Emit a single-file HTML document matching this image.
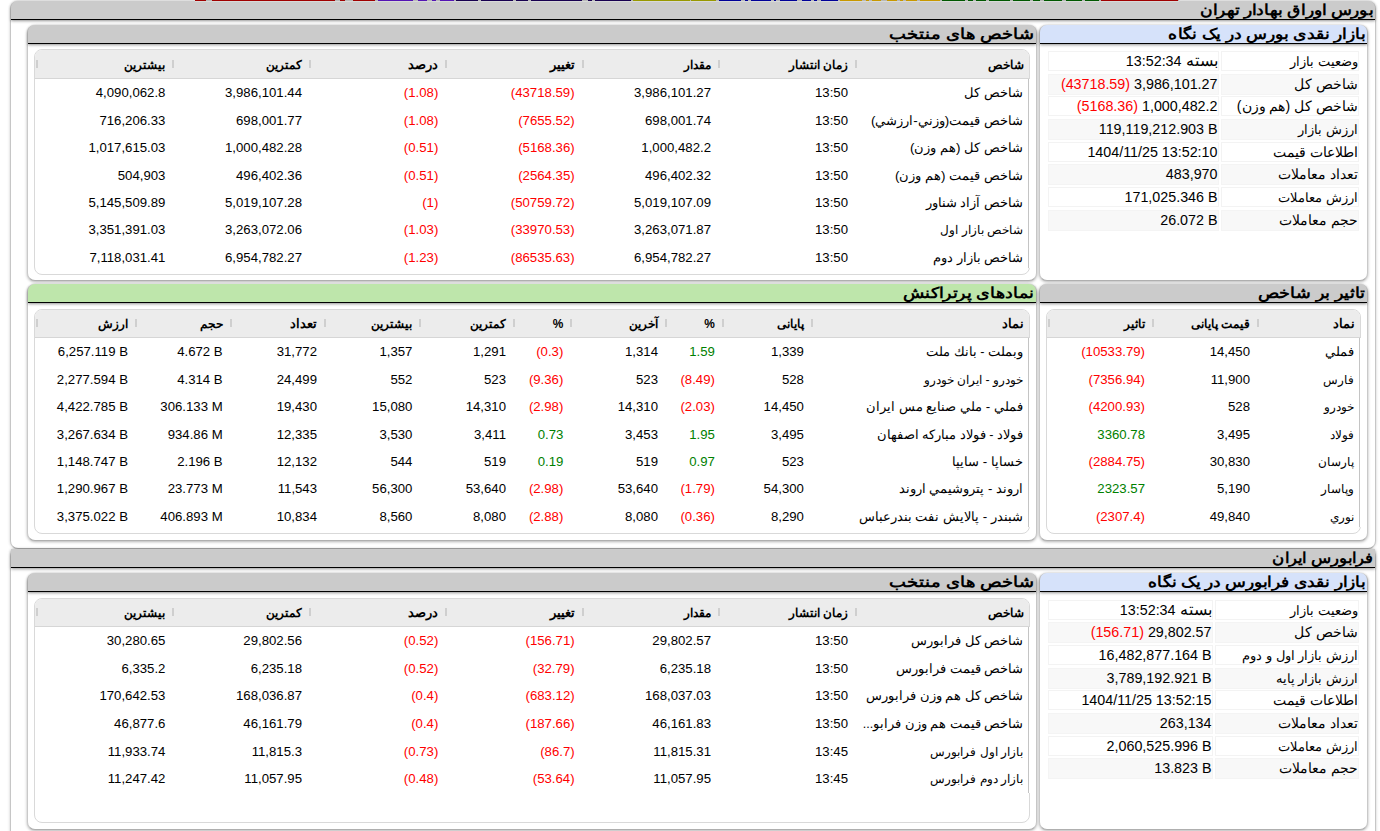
<!DOCTYPE html>
<html lang="fa" dir="rtl">
<head>
<meta charset="utf-8">
<title>TSETMC</title>
<style>
html,body{margin:0;padding:0}
body{width:1380px;height:831px;overflow:hidden;background:#fff;position:relative;direction:rtl;color:#000;font-family:"Liberation Sans",sans-serif;font-size:13px}
.strip{position:absolute;top:0;left:195px;width:984px;height:1px;direction:ltr;background:#b8b8b8;border-bottom:1px solid #d8dad8;z-index:5}
.strip i{position:absolute;top:0;height:1px;display:block}
.outer{position:absolute;left:10px;width:1366px;box-sizing:border-box;border:1px solid #c6c6c6;border-top:0;border-bottom-color:#afafaf;border-radius:8px;background:#fff;box-shadow:0 0 3px rgba(0,0,0,.22)}
.outer>h1{margin:0;height:18px;background:#cbcbcb;border-bottom:1px solid #000;border-radius:7px 7px 0 0;box-shadow:0 1px 3px rgba(0,0,0,.42);font-size:14.6px;font-weight:bold;line-height:18px;padding:0 2px 0 0;text-align:right;white-space:nowrap;overflow:visible}
.outer.sq>h1{border-radius:0}
h1>span,h2>span{display:inline-block;transform-origin:100% 50%}
.box{position:absolute;box-sizing:border-box;border:1px solid #c9c9c9;border-top:0;border-bottom-color:#afafaf;border-radius:8px;background:#fff;box-shadow:0 1px 3px rgba(0,0,0,.3)}
.box>h2{margin:0;height:18px;background:#cbcbcb;border-bottom:1px solid #000;border-radius:7px 7px 0 0;box-shadow:0 1px 3px rgba(0,0,0,.42);font-size:14.6px;font-weight:bold;line-height:18px;padding:0 2px 0 0;text-align:right;white-space:nowrap}
.box.blue>h2{background:#d6e2fa}
.box.w>h2{padding-right:2px}
.box.green>h2{background:#bee6ab}
.grid{position:absolute;box-sizing:border-box;border:1px solid #d9d9d9;border-radius:8px;background:#fff;overflow:hidden}
.grid table{border-collapse:separate;border-spacing:0;table-layout:fixed;width:100%}
.grid th{height:29px;padding:0 8px 0 0;background:#ececec;border-bottom:1px solid #d6d6d6;font-weight:bold;font-size:12.4px;text-align:right;position:relative;white-space:nowrap;box-sizing:border-box}
.grid th:after{content:"";position:absolute;left:-1px;top:10px;width:2px;height:8px;background:#cfcfcf;z-index:2}
.grid th:first-child{padding-right:5px}
.grid th:last-child:after{display:none}
.grid.h28 th{height:28px}
.grid.h28 th:after{top:9px}
.grid td{padding:0 8px 0 0;text-align:right;white-space:nowrap;box-sizing:border-box;font-size:13.2px;overflow:hidden}
.grid td.a{font-size:12.9px;padding-right:6px}
.vl{position:absolute;width:1px;background:#c4c4c4;border-right:1px solid #fff}
.n{direction:ltr;unicode-bidi:isolate;display:inline-block}
.r{color:#f00}
.g{color:#008000}
.kv{position:absolute;box-sizing:border-box;border:1px solid #f3f3f3;background:#fff;height:20.4px;line-height:19px;white-space:nowrap;text-align:right;padding:0 0.5px 0 0;font-size:14.3px}
.kv .ar{font-size:15.6px;line-height:0}
.kv.k{font-size:13.5px;padding-right:0}
.kv.alt{background:#f8f8f8;border-color:#f4f4f4}
</style>
</head>
<body>
<div class="strip"><i style="left:0px;width:11px;background:#a00000"></i><i style="left:17px;width:123px;background:#a00000"></i><i style="left:145px;width:5px;background:#a00000"></i><i style="left:158px;width:22px;background:#a00000"></i><i style="left:183px;width:35px;background:#5414b4"></i><i style="left:223px;width:9px;background:#5414b4"></i><i style="left:237px;width:4px;background:#5414b4"></i><i style="left:245px;width:14px;background:#5414b4"></i><i style="left:261px;width:22px;background:#180050"></i><i style="left:286px;width:32px;background:#180050"></i><i style="left:321px;width:12px;background:#180050"></i><i style="left:336px;width:51px;background:#180050"></i><i style="left:393px;width:4px;background:#180050"></i><i style="left:400px;width:36px;background:#180050"></i><i style="left:438px;width:57px;background:#989800"></i><i style="left:496px;width:25px;background:#989800"></i><i style="left:524px;width:22px;background:#000098"></i><i style="left:550px;width:3px;background:#000098"></i><i style="left:556px;width:20px;background:#000098"></i><i style="left:579px;width:2px;background:#000098"></i><i style="left:585px;width:17px;background:#000098"></i><i style="left:607px;width:9px;background:#000098"></i><i style="left:619px;width:3px;background:#000098"></i><i style="left:626px;width:17px;background:#000098"></i><i style="left:645px;width:22px;background:#c89800"></i><i style="left:671px;width:3px;background:#c89800"></i><i style="left:677px;width:9px;background:#c89800"></i><i style="left:692px;width:10px;background:#c89800"></i><i style="left:705px;width:3px;background:#c89800"></i><i style="left:711px;width:11px;background:#c89800"></i><i style="left:725px;width:20px;background:#c89800"></i><i style="left:747px;width:23px;background:#005800"></i><i style="left:773px;width:5px;background:#005800"></i><i style="left:781px;width:10px;background:#005800"></i><i style="left:794px;width:21px;background:#005800"></i><i style="left:818px;width:17px;background:#005800"></i><i style="left:838px;width:7px;background:#005800"></i><i style="left:849px;width:18px;background:#005800"></i><i style="left:871px;width:16px;background:#005800"></i><i style="left:890px;width:14px;background:#005800"></i><i style="left:906px;width:77px;background:#a00000"></i></div>
<div class="outer" style="top:1px;height:548px"><h1><span style="transform:scaleX(1.144)">بورس اوراق بهادار تهران</span></h1></div>
<div class="outer sq" style="top:549px;height:300px"><h1><span style="transform:scaleX(1.105)">فرابورس ایران</span></h1></div>
<div class="box w" style="left:27px;top:25px;width:1010px;height:256px"><h2><span style="transform:scaleX(1.195)">شاخص های منتخب</span></h2></div>
<div class="box blue" style="left:1039px;top:25px;width:329px;height:256px"><h2><span style="transform:scaleX(1.143)">بازار نقدی بورس در یک نگاه</span></h2></div>
<div class="grid" style="left:34px;top:49px;width:996px;height:226px">
<table><colgroup>
<col style="width:173px">
<col style="width:137px">
<col style="width:136.4px">
<col style="width:136.3px">
<col style="width:136.3px">
<col style="width:136.6px">
<col style="width:136.4px">
<col>
</colgroup><thead><tr>
<th style="font-size:12.4px">شاخص</th>
<th style="font-size:12.4px">زمان انتشار</th>
<th style="font-size:12.4px">مقدار</th>
<th style="font-size:12.5px">تغییر</th>
<th style="font-size:12.5px">درصد</th>
<th style="font-size:12.4px">کمترین</th>
<th style="font-size:12.4px">بیشترین</th>
<th style="padding:0"></th>
</tr></thead><tbody>
<tr style="height:27.45px">
<td class="a" style="font-size:12.9px">شاخص کل</td>
<td><span class="n">13:50</span></td>
<td><span class="n">3,986,101.27</span></td>
<td><span class="n r">(43718.59)</span></td>
<td><span class="n r">(1.08)</span></td>
<td><span class="n">3,986,101.44</span></td>
<td><span class="n">4,090,062.8</span></td>
<td style="padding:0"></td></tr>
<tr style="height:27.45px">
<td class="a" style="font-size:13.4px">شاخص قیمت(وزني-ارزشي)</td>
<td><span class="n">13:50</span></td>
<td><span class="n">698,001.74</span></td>
<td><span class="n r">(7655.52)</span></td>
<td><span class="n r">(1.08)</span></td>
<td><span class="n">698,001.77</span></td>
<td><span class="n">716,206.33</span></td>
<td style="padding:0"></td></tr>
<tr style="height:27.45px">
<td class="a" style="font-size:13.4px">شاخص کل (هم وزن)</td>
<td><span class="n">13:50</span></td>
<td><span class="n">1,000,482.2</span></td>
<td><span class="n r">(5168.36)</span></td>
<td><span class="n r">(0.51)</span></td>
<td><span class="n">1,000,482.28</span></td>
<td><span class="n">1,017,615.03</span></td>
<td style="padding:0"></td></tr>
<tr style="height:27.45px">
<td class="a" style="font-size:13.4px">شاخص قیمت (هم وزن)</td>
<td><span class="n">13:50</span></td>
<td><span class="n">496,402.32</span></td>
<td><span class="n r">(2564.35)</span></td>
<td><span class="n r">(0.51)</span></td>
<td><span class="n">496,402.36</span></td>
<td><span class="n">504,903</span></td>
<td style="padding:0"></td></tr>
<tr style="height:27.45px">
<td class="a" style="font-size:12.8px">شاخص آزاد شناور</td>
<td><span class="n">13:50</span></td>
<td><span class="n">5,019,107.09</span></td>
<td><span class="n r">(50759.72)</span></td>
<td><span class="n r">(1)</span></td>
<td><span class="n">5,019,107.28</span></td>
<td><span class="n">5,145,509.89</span></td>
<td style="padding:0"></td></tr>
<tr style="height:27.45px">
<td class="a" style="font-size:12.4px">شاخص بازار اول</td>
<td><span class="n">13:50</span></td>
<td><span class="n">3,263,071.87</span></td>
<td><span class="n r">(33970.53)</span></td>
<td><span class="n r">(1.03)</span></td>
<td><span class="n">3,263,072.06</span></td>
<td><span class="n">3,351,391.03</span></td>
<td style="padding:0"></td></tr>
<tr style="height:27.45px">
<td class="a" style="font-size:12.5px">شاخص بازار دوم</td>
<td><span class="n">13:50</span></td>
<td><span class="n">6,954,782.27</span></td>
<td><span class="n r">(86535.63)</span></td>
<td><span class="n r">(1.23)</span></td>
<td><span class="n">6,954,782.27</span></td>
<td><span class="n">7,118,031.41</span></td>
<td style="padding:0"></td></tr>
</tbody></table></div>
<div class="vl" style="left:1028px;top:79px;height:189px"></div>
<div class="kv k" style="left:1221px;top:51px;width:138px;font-size:13.4px">وضعیت بازار</div>
<div class="kv" style="left:1048px;top:51px;width:171px"><span class="ar">بسته</span> <span class="n">13:52:34</span></div>
<div class="kv k alt" style="left:1221px;top:74px;width:138px;height:21px;font-size:13.5px">شاخص کل</div>
<div class="kv alt" style="left:1048px;top:74px;width:171px;height:21px"><span class="n">3,986,101.27</span> <span class="n r">(43718.59)</span></div>
<div class="kv k" style="left:1221px;top:96px;width:138px;font-size:14.1px">شاخص کل (هم وزن)</div>
<div class="kv" style="left:1048px;top:96px;width:171px"><span class="n">1,000,482.2</span> <span class="n r">(5168.36)</span></div>
<div class="kv k alt" style="left:1221px;top:119px;width:138px;height:21px;font-size:13.4px">ارزش بازار</div>
<div class="kv alt" style="left:1048px;top:119px;width:171px;height:21px"><span class="n">119,119,212.903 B</span></div>
<div class="kv k" style="left:1221px;top:142px;width:138px;font-size:13.5px">اطلاعات قیمت</div>
<div class="kv" style="left:1048px;top:142px;width:171px"><span class="n">1404/11/25 13:52:10</span></div>
<div class="kv k alt" style="left:1221px;top:164px;width:138px;height:21px;font-size:13.5px">تعداد معاملات</div>
<div class="kv alt" style="left:1048px;top:164px;width:171px;height:21px"><span class="n">483,970</span></div>
<div class="kv k" style="left:1221px;top:187px;width:138px;font-size:13.4px">ارزش معاملات</div>
<div class="kv" style="left:1048px;top:187px;width:171px"><span class="n">171,025.346 B</span></div>
<div class="kv k alt" style="left:1221px;top:210px;width:138px;height:21px;font-size:13.5px">حجم معاملات</div>
<div class="kv alt" style="left:1048px;top:210px;width:171px;height:21px"><span class="n">26.072 B</span></div>
<div class="box green w" style="left:27px;top:284px;width:1010px;height:257px"><h2><span style="transform:scaleX(1.162)">نمادهای پرتراکنش</span></h2></div>
<div class="box" style="left:1039px;top:284px;width:329px;height:257px"><h2><span style="transform:scaleX(1.174)">تاثیر بر شاخص</span></h2></div>
<div class="grid h28" style="left:34px;top:309px;width:996px;height:225px">
<table><colgroup>
<col style="width:217.1px">
<col style="width:89px">
<col style="width:56.9px">
<col style="width:94.7px">
<col style="width:57.3px">
<col style="width:93.6px">
<col style="width:95.4px">
<col style="width:94.4px">
<col style="width:94.7px">
<col style="width:98.9px">
<col>
</colgroup><thead><tr>
<th style="font-size:12.5px">نماد</th>
<th style="font-size:12.4px">پایانی</th>
<th style="font-size:11.9px">%</th>
<th style="font-size:12.4px">آخرین</th>
<th style="font-size:11.9px">%</th>
<th style="font-size:12.4px">کمترین</th>
<th style="font-size:12.4px">بیشترین</th>
<th style="font-size:12.5px">تعداد</th>
<th style="font-size:12.4px">حجم</th>
<th style="font-size:12.4px">ارزش</th>
<th style="padding:0"></th>
</tr></thead><tbody>
<tr style="height:27.45px">
<td class="a" style="font-size:12.6px">وبملت - بانك ملت</td>
<td><span class="n">1,339</span></td>
<td><span class="n g">1.59</span></td>
<td><span class="n">1,314</span></td>
<td><span class="n r">(0.3)</span></td>
<td><span class="n">1,291</span></td>
<td><span class="n">1,357</span></td>
<td><span class="n">31,772</span></td>
<td><span class="n">4.672 B</span></td>
<td><span class="n">6,257.119 B</span></td>
<td style="padding:0"></td></tr>
<tr style="height:27.45px">
<td class="a" style="font-size:12.4px">خودرو - ایران خودرو</td>
<td><span class="n">528</span></td>
<td><span class="n r">(8.49)</span></td>
<td><span class="n">523</span></td>
<td><span class="n r">(9.36)</span></td>
<td><span class="n">523</span></td>
<td><span class="n">552</span></td>
<td><span class="n">24,499</span></td>
<td><span class="n">4.314 B</span></td>
<td><span class="n">2,277.594 B</span></td>
<td style="padding:0"></td></tr>
<tr style="height:27.45px">
<td class="a" style="font-size:13.4px">فملي - ملي صنایع مس ایران</td>
<td><span class="n">14,450</span></td>
<td><span class="n r">(2.03)</span></td>
<td><span class="n">14,310</span></td>
<td><span class="n r">(2.98)</span></td>
<td><span class="n">14,310</span></td>
<td><span class="n">15,080</span></td>
<td><span class="n">19,430</span></td>
<td><span class="n">306.133 M</span></td>
<td><span class="n">4,422.785 B</span></td>
<td style="padding:0"></td></tr>
<tr style="height:27.45px">
<td class="a" style="font-size:12.7px">فولاد - فولاد مبارکه اصفهان</td>
<td><span class="n">3,495</span></td>
<td><span class="n g">1.95</span></td>
<td><span class="n">3,453</span></td>
<td><span class="n g">0.73</span></td>
<td><span class="n">3,411</span></td>
<td><span class="n">3,530</span></td>
<td><span class="n">12,335</span></td>
<td><span class="n">934.86 M</span></td>
<td><span class="n">3,267.634 B</span></td>
<td style="padding:0"></td></tr>
<tr style="height:27.45px">
<td class="a" style="font-size:13.4px">خساپا - سایپا</td>
<td><span class="n">523</span></td>
<td><span class="n g">0.97</span></td>
<td><span class="n">519</span></td>
<td><span class="n g">0.19</span></td>
<td><span class="n">519</span></td>
<td><span class="n">544</span></td>
<td><span class="n">12,132</span></td>
<td><span class="n">2.196 B</span></td>
<td><span class="n">1,148.747 B</span></td>
<td style="padding:0"></td></tr>
<tr style="height:27.45px">
<td class="a" style="font-size:13.1px">اروند - پتروشیمي اروند</td>
<td><span class="n">54,300</span></td>
<td><span class="n r">(1.79)</span></td>
<td><span class="n">53,640</span></td>
<td><span class="n r">(2.98)</span></td>
<td><span class="n">53,640</span></td>
<td><span class="n">56,300</span></td>
<td><span class="n">11,543</span></td>
<td><span class="n">23.773 M</span></td>
<td><span class="n">1,290.967 B</span></td>
<td style="padding:0"></td></tr>
<tr style="height:27.45px">
<td class="a" style="font-size:13.4px">شبندر - پالایش نفت بندرعباس</td>
<td><span class="n">8,290</span></td>
<td><span class="n r">(0.36)</span></td>
<td><span class="n">8,080</span></td>
<td><span class="n r">(2.88)</span></td>
<td><span class="n">8,080</span></td>
<td><span class="n">8,560</span></td>
<td><span class="n">10,834</span></td>
<td><span class="n">406.893 M</span></td>
<td><span class="n">3,375.022 B</span></td>
<td style="padding:0"></td></tr>
</tbody></table></div>
<div class="vl" style="left:1028px;top:338px;height:189px"></div>
<div class="grid h28" style="left:1046px;top:309px;width:315px;height:225px">
<table><colgroup>
<col style="width:102px">
<col style="width:105px">
<col style="width:104px">
<col>
</colgroup><thead><tr>
<th style="font-size:12.5px">نماد</th>
<th style="font-size:12.4px">قیمت پایانی</th>
<th style="font-size:12.4px">تاثیر</th>
<th style="padding:0"></th>
</tr></thead><tbody>
<tr style="height:27.45px">
<td class="a" style="font-size:12.9px">فملي</td>
<td><span class="n">14,450</span></td>
<td><span class="n r">(10533.79)</span></td>
<td style="padding:0"></td></tr>
<tr style="height:27.45px">
<td class="a" style="font-size:12.4px">فارس</td>
<td><span class="n">11,900</span></td>
<td><span class="n r">(7356.94)</span></td>
<td style="padding:0"></td></tr>
<tr style="height:27.45px">
<td class="a" style="font-size:12.4px">خودرو</td>
<td><span class="n">528</span></td>
<td><span class="n r">(4200.93)</span></td>
<td style="padding:0"></td></tr>
<tr style="height:27.45px">
<td class="a" style="font-size:12.4px">فولاد</td>
<td><span class="n">3,495</span></td>
<td><span class="n g">3360.78</span></td>
<td style="padding:0"></td></tr>
<tr style="height:27.45px">
<td class="a" style="font-size:12.4px">پارسان</td>
<td><span class="n">30,830</span></td>
<td><span class="n r">(2884.75)</span></td>
<td style="padding:0"></td></tr>
<tr style="height:27.45px">
<td class="a" style="font-size:12.4px">وپاسار</td>
<td><span class="n">5,190</span></td>
<td><span class="n g">2323.57</span></td>
<td style="padding:0"></td></tr>
<tr style="height:27.45px">
<td class="a" style="font-size:12.4px">نوري</td>
<td><span class="n">49,840</span></td>
<td><span class="n r">(2307.4)</span></td>
<td style="padding:0"></td></tr>
</tbody></table></div>
<div class="vl" style="left:1359px;top:338px;height:189px"></div>
<div class="box w" style="left:27px;top:573px;width:1010px;height:257px"><h2><span style="transform:scaleX(1.195)">شاخص های منتخب</span></h2></div>
<div class="box blue" style="left:1039px;top:573px;width:329px;height:257px"><h2><span style="transform:scaleX(1.137)">بازار نقدی فرابورس در یک نگاه</span></h2></div>
<div class="grid h28" style="left:34px;top:598px;width:996px;height:225px">
<table><colgroup>
<col style="width:173px">
<col style="width:137px">
<col style="width:136.4px">
<col style="width:136.3px">
<col style="width:136.3px">
<col style="width:136.6px">
<col style="width:136.4px">
<col>
</colgroup><thead><tr>
<th style="font-size:12.4px">شاخص</th>
<th style="font-size:12.4px">زمان انتشار</th>
<th style="font-size:12.4px">مقدار</th>
<th style="font-size:12.5px">تغییر</th>
<th style="font-size:12.5px">درصد</th>
<th style="font-size:12.4px">کمترین</th>
<th style="font-size:12.4px">بیشترین</th>
<th style="padding:0"></th>
</tr></thead><tbody>
<tr style="height:27.6px">
<td class="a" style="font-size:12.5px">شاخص کل فرابورس</td>
<td><span class="n">13:50</span></td>
<td><span class="n">29,802.57</span></td>
<td><span class="n r">(156.71)</span></td>
<td><span class="n r">(0.52)</span></td>
<td><span class="n">29,802.56</span></td>
<td><span class="n">30,280.65</span></td>
<td style="padding:0"></td></tr>
<tr style="height:27.6px">
<td class="a" style="font-size:12.5px">شاخص قیمت فرابورس</td>
<td><span class="n">13:50</span></td>
<td><span class="n">6,235.18</span></td>
<td><span class="n r">(32.79)</span></td>
<td><span class="n r">(0.52)</span></td>
<td><span class="n">6,235.18</span></td>
<td><span class="n">6,335.2</span></td>
<td style="padding:0"></td></tr>
<tr style="height:27.6px">
<td class="a" style="font-size:12.5px">شاخص کل هم وزن فرابورس</td>
<td><span class="n">13:50</span></td>
<td><span class="n">168,037.03</span></td>
<td><span class="n r">(683.12)</span></td>
<td><span class="n r">(0.4)</span></td>
<td><span class="n">168,036.87</span></td>
<td><span class="n">170,642.53</span></td>
<td style="padding:0"></td></tr>
<tr style="height:27.6px">
<td class="a" style="font-size:12.5px">شاخص قیمت هم وزن فرابو...</td>
<td><span class="n">13:50</span></td>
<td><span class="n">46,161.83</span></td>
<td><span class="n r">(187.66)</span></td>
<td><span class="n r">(0.4)</span></td>
<td><span class="n">46,161.79</span></td>
<td><span class="n">46,877.6</span></td>
<td style="padding:0"></td></tr>
<tr style="height:27.6px">
<td class="a" style="font-size:12.4px">بازار اول فرابورس</td>
<td><span class="n">13:45</span></td>
<td><span class="n">11,815.31</span></td>
<td><span class="n r">(86.7)</span></td>
<td><span class="n r">(0.73)</span></td>
<td><span class="n">11,815.3</span></td>
<td><span class="n">11,933.74</span></td>
<td style="padding:0"></td></tr>
<tr style="height:27.6px">
<td class="a" style="font-size:12.4px">بازار دوم فرابورس</td>
<td><span class="n">13:45</span></td>
<td><span class="n">11,057.95</span></td>
<td><span class="n r">(53.64)</span></td>
<td><span class="n r">(0.48)</span></td>
<td><span class="n">11,057.95</span></td>
<td><span class="n">11,247.42</span></td>
<td style="padding:0"></td></tr>
</tbody></table></div>
<div class="vl" style="left:1028px;top:627px;height:166px"></div>
<div class="kv k" style="left:1215px;top:600px;width:144px;font-size:13.4px">وضعیت بازار</div>
<div class="kv" style="left:1048px;top:600px;width:165px"><span class="ar">بسته</span> <span class="n">13:52:34</span></div>
<div class="kv k alt" style="left:1215px;top:622px;width:144px;height:21px;font-size:13.5px">شاخص کل</div>
<div class="kv alt" style="left:1048px;top:622px;width:165px;height:21px"><span class="n">29,802.57</span> <span class="n r">(156.71)</span></div>
<div class="kv k" style="left:1215px;top:645px;width:144px;font-size:13.4px">ارزش بازار اول و دوم</div>
<div class="kv" style="left:1048px;top:645px;width:165px"><span class="n">16,482,877.164 B</span></div>
<div class="kv k alt" style="left:1215px;top:668px;width:144px;height:21px;font-size:12.9px">ارزش بازار پایه</div>
<div class="kv alt" style="left:1048px;top:668px;width:165px;height:21px"><span class="n">3,789,192.921 B</span></div>
<div class="kv k" style="left:1215px;top:690px;width:144px;font-size:13.5px">اطلاعات قیمت</div>
<div class="kv" style="left:1048px;top:690px;width:165px"><span class="n">1404/11/25 13:52:15</span></div>
<div class="kv k alt" style="left:1215px;top:713px;width:144px;height:21px;font-size:13.5px">تعداد معاملات</div>
<div class="kv alt" style="left:1048px;top:713px;width:165px;height:21px"><span class="n">263,134</span></div>
<div class="kv k" style="left:1215px;top:736px;width:144px;font-size:13.4px">ارزش معاملات</div>
<div class="kv" style="left:1048px;top:736px;width:165px"><span class="n">2,060,525.996 B</span></div>
<div class="kv k alt" style="left:1215px;top:758px;width:144px;height:21px;font-size:13.5px">حجم معاملات</div>
<div class="kv alt" style="left:1048px;top:758px;width:165px;height:21px"><span class="n">13.823 B</span></div>
</body></html>
